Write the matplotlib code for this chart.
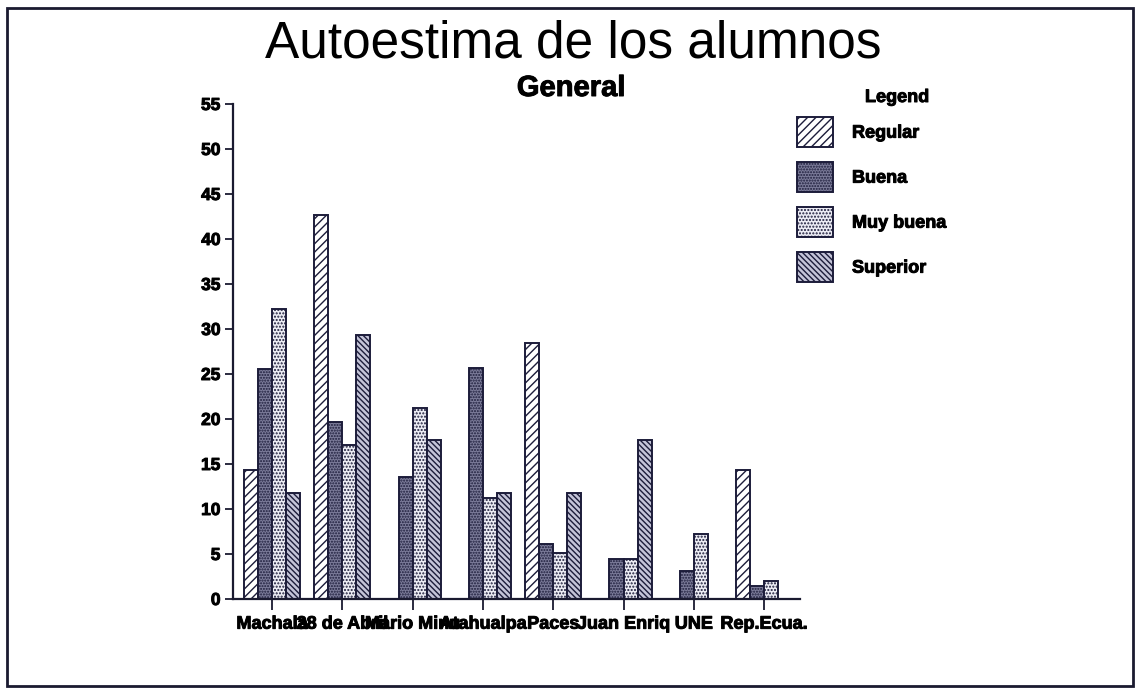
import numpy as np
import matplotlib
matplotlib.use("Agg")
import matplotlib.pyplot as plt
from matplotlib.patches import Rectangle
import matplotlib.patheffects as pe

categories = ["Machala", "28 de Abril", "Mario Minu", "Atahualpa", "Paces",
              "Juan Enriq", "UNE", "Rep.Ecua."]
series_names = ["Regular", "Buena", "Muy buena", "Superior"]
regular = [14.3, 42.7, 0, 0, 28.4, 0, 0, 14.3]
buena = [25.6, 19.7, 13.6, 25.7, 6.1, 4.5, 3.1, 1.4]
muy_buena = [32.2, 17.1, 21.2, 11.2, 5.1, 4.5, 7.2, 2.0]
superior = [11.8, 29.3, 17.7, 11.8, 11.8, 17.7, 0, 0]
yticks = list(range(0, 56, 5))

plt.rcParams['font.family'] = ['Liberation Sans', 'DejaVu Sans']
plt.rcParams['hatch.linewidth'] = 1.0

W, H = 1138, 691
fig = plt.figure(figsize=(W / 100, H / 100), dpi=100)
fig.patch.set_facecolor('white')

ax = fig.add_axes([233 / W, 1 - 599 / H, (800 - 233) / W, (599 - 104) / H])

edge = '#1c1c3a'
styles = [
    dict(facecolor='white', hatch='////'),
    dict(facecolor='#7c7c9a', hatch='......'),
    dict(facecolor='#ececf4', hatch='.....'),
    dict(facecolor='#c4c4d8', hatch='\\\\\\\\\\\\'),
]
data = [regular, buena, muy_buena, superior]
x = np.arange(len(categories))
bw = 0.2
handles = []
for i, (vals, st, name) in enumerate(zip(data, styles, series_names)):
    b = ax.bar(x + (i - 1.5) * bw, vals, width=bw, edgecolor=edge,
               linewidth=1.4, label=name, **st)
    handles.append(b)

heavy = [pe.withStroke(linewidth=0.7, foreground='black')]

ax.set_xlim(-0.555, 7.51)
ax.set_ylim(0, 55)
ax.set_yticks(yticks)
ax.set_xticks(x)
ax.set_xticklabels(categories)
for s in ['top', 'right']:
    ax.spines[s].set_visible(False)
for s in ['left', 'bottom']:
    ax.spines[s].set_linewidth(1.6)
    ax.spines[s].set_color('#1a1a30')
ax.tick_params(axis='y', direction='out', length=6, width=1.3, colors='#1a1a30',
               labelsize=12.5, pad=3)
ax.tick_params(axis='x', direction='out', length=8, width=1.3, colors='#1a1a30',
               labelsize=13, pad=4)
for lab in ax.get_xticklabels() + ax.get_yticklabels():
    lab.set_fontweight('bold')
    lab.set_color('black')
    lab.set_path_effects(heavy)

fig.text(573 / W, 1 - 57 / H, "Autoestima de los alumnos", fontsize=37,
         ha='center', va='baseline', color='black')
fig.text(571 / W, 1 - 96 / H, "General", fontsize=21, fontweight='bold',
         ha='center', va='baseline', color='black', path_effects=heavy)
fig.text(897 / W, 1 - 102 / H, "Legend", fontsize=13, fontweight='bold',
         ha='center', va='baseline', color='black', path_effects=heavy)

lfs_pt = 13
fs = lfs_pt * 100 / 72
hh = (30 / fs - 0.245) / 0.65
leg = fig.legend(handles=handles, labels=series_names, loc='upper left',
                 bbox_to_anchor=(797 / W, 1 - 117 / H), frameon=False,
                 prop=dict(size=lfs_pt, weight='bold'),
                 handlelength=36 / fs, handleheight=hh,
                 labelspacing=(45 - 30) / fs, handletextpad=19 / fs,
                 borderpad=0, borderaxespad=0)
for t in leg.get_texts():
    t.set_path_effects(heavy)

fig.patches.append(Rectangle((7 / W, 1 - 686 / H), (1133 - 7) / W, (686 - 8) / H,
                             transform=fig.transFigure, fill=False,
                             edgecolor='#1a1a30', linewidth=2))

fig.savefig("out.png", dpi=100)
